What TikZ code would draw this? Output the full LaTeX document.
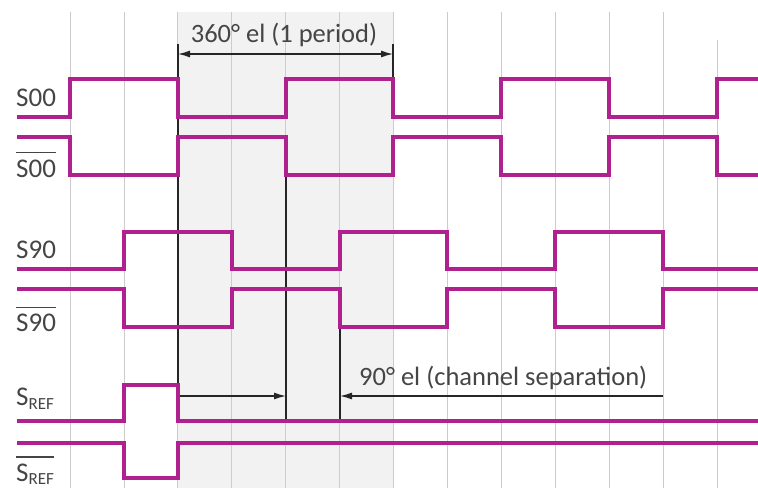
\documentclass[tikz,border=0pt]{standalone}
\usepackage{fontspec}
\setmainfont{Carlito}
\usetikzlibrary{arrows.meta}

\definecolor{sigmag}{HTML}{B0208E}
\definecolor{txtgray}{HTML}{454545}

\begin{document}
\begin{tikzpicture}[x=1pt,y=-1pt,
    sig/.style={sigmag, line width=4pt, line join=miter},
    gridln/.style={black!20, line width=0.8pt},
    dimln/.style={black!85, line width=1.3pt},
    lbl/.style={inner sep=0pt, text=txtgray, font=\fontsize{27}{27}\selectfont},
    dimlbl/.style={lbl, font=\fontsize{26.5}{26.5}\selectfont},
    barln/.style={txtgray, line width=1.2pt}]

            \useasboundingbox (0,0) rectangle (758,488);
            \def\per{53.9}

            % shaded period and grid
            \fill[black!5] (178,12) rectangle (393,488);
            \foreach \i in {0, ..., 11}{
                \draw[gridln] ({70+\i*\per},12) -- ({70+\i*\per},488);
            }
            \draw[gridln] (717,40) -- (717,488);

            % dimension lines
            \coordinate (aTop) at (178,44);
            \coordinate (aBot) at (178,385);
            \coordinate (bTop) at (393,44);
            \coordinate (bBot) at (393,79);
            \coordinate (cTop) at (286,175);
            \coordinate (cBot) at (286,421);
            \coordinate (dTop) at (340,327);
            \coordinate (dBot) at (340,421);
            \coordinate (aArr) at (178,54);
            \coordinate (bArr) at (393,54);
            \coordinate (aSep) at (178,396);
            \coordinate (cSep) at (286,396);
            \coordinate (dSep) at (340,396);
            \coordinate (eSep) at (663,396);

            \draw[dimln] (aTop) -- (aBot);
            \draw[dimln] (bTop) -- (bBot);
            \draw[dimln] (cTop) -- (cBot);
            \draw[dimln] (dTop) -- (dBot);
            \draw[dimln, {Latex[length=12pt,width=7pt]}-{Latex[length=12pt,width=7pt]}] (aArr) -- (bArr);
            \draw[dimln, -{Latex[length=12pt,width=7pt]}] (aSep) -- (cSep);
            \draw[dimln, -{Latex[length=12pt,width=7pt]}] (eSep) -- (dSep);

            % signals
            \draw[sig] (17,117) -| (70,79) -| (178,117) -| (286,79) -| (393,117) -| (501,79) -| (609,117) -| (717,79) -- (758,79);
            \draw[sig] (17,137) -| (70,175) -| (178,137) -| (286,175) -| (393,137) -| (501,175) -| (609,137) -| (717,175) -- (758,175);
            \draw[sig] (17,269) -| (124,232) -| (232,269) -| (340,232) -| (447,269) -| (555,232) -| (663,269) -- (758,269);
            \draw[sig] (17,289) -| (124,327) -| (232,289) -| (340,327) -| (447,289) -| (555,327) -| (663,289) -- (758,289);
            \draw[sig] (17,421) -| (124,385) -| (178,421) -- (758,421);
            \draw[sig] (17,443) -| (124,478) -| (178,443) -- (758,443);

            % labels
            \node[lbl, anchor=base west] (s00) at (16,106) {S00};
            \node[lbl, anchor=base west] (s00n) at (16,177) {S00};
            \node[lbl, anchor=base west] (s90) at (16,258) {S90};
            \node[lbl, anchor=base west] (s90n) at (16,331) {S90};
            \node[lbl, anchor=base west] (sref) at (16,405) {S\raisebox{-4pt}{\fontsize{17}{17}\selectfont REF}};
            \node[lbl, anchor=base west] (srefn) at (16,481) {S\raisebox{-3pt}{\fontsize{17}{17}\selectfont REF}};
            \draw[barln] ([yshift=7pt]s00n.north west) -- ([yshift=7pt]s00n.north east);
            \draw[barln] ([yshift=6pt]s90n.north west) -- ([yshift=6pt]s90n.north east);
            \draw[barln] (16,457) -- (srefn.east |- 16,457);

            \node[dimlbl, anchor=base] (period) at (284,42) {360° el (1 period)};
            \node[dimlbl, anchor=base west] (chsep) at (359,385) {90° el (channel separation)};

        \end{tikzpicture}
\end{document}
